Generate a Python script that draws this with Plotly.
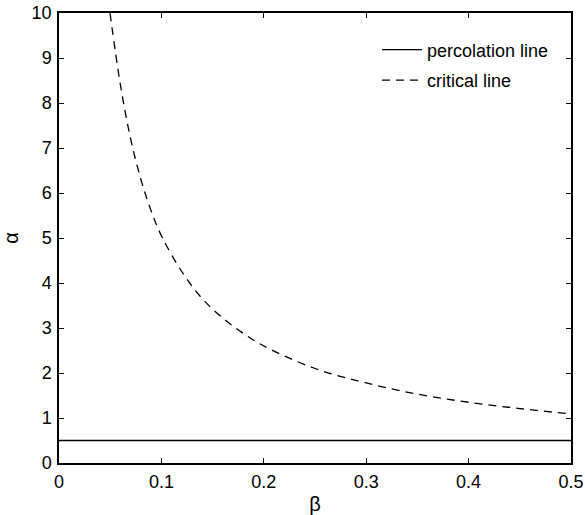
import plotly.graph_objects as go

beta_crit = [0.0498, 0.06, 0.07, 0.08, 0.09, 0.10, 0.12, 0.14, 0.16, 0.18, 0.20, 0.25, 0.30, 0.35, 0.40, 0.45, 0.50]
alpha_crit = [10.0, 8.4, 7.2, 6.3, 5.6, 5.05, 4.25, 3.65, 3.22, 2.88, 2.6, 2.1, 1.78, 1.53, 1.35, 1.21, 1.09]
beta_perc = [0.0, 0.5]
alpha_perc = [0.5, 0.5]
x_ticks = [0, 0.1, 0.2, 0.3, 0.4, 0.5]
x_tick_labels = ["0", "0.1", "0.2", "0.3", "0.4", "0.5"]
y_ticks = list(range(0, 11))

font = "Liberation Sans, Arial, sans-serif"

fig = go.Figure()
fig.add_trace(go.Scatter(x=beta_perc, y=alpha_perc, mode="lines", name="percolation line",
                         legendgroup="p", line=dict(color="black", width=1.3)))
fig.add_trace(go.Scatter(x=beta_crit, y=alpha_crit, mode="lines", name="critical line",
                         legendgroup="c",
                         line=dict(color="black", width=1.3, dash="8px,6px", shape="spline")))

axis_common = dict(showgrid=False, zeroline=False, showline=True, linecolor="black", linewidth=1.5,
                   mirror="ticks", ticks="inside", ticklen=5, tickcolor="black", tickwidth=1,
                   automargin=False, ticklabelstandoff=2,
                   tickfont=dict(family=font, size=18, color="black"))

fig.update_layout(
    width=585, height=515,
    margin=dict(l=59, r=14, t=13, b=52),
    paper_bgcolor="white", plot_bgcolor="white",
    showlegend=True,
    legend=dict(x=0.621, y=0.959, xanchor="left", yanchor="top", bgcolor="rgba(0,0,0,0)",
                font=dict(family=font, size=18, color="black"), tracegroupgap=4,
                itemwidth=40),
    xaxis=dict(range=[0, 0.5], tickvals=x_ticks, ticktext=x_tick_labels,
               title=dict(text="β", font=dict(family=font, size=20, color="black"), standoff=6),
               **axis_common),
    yaxis=dict(range=[0, 10], tickvals=y_ticks,
               title=dict(text="α", font=dict(family=font, size=20, color="black"), standoff=18),
               **axis_common),
)

# remove the browser's default 8px body margin so the figure fills the window exactly
fig.write_html("out.html", config={"displayModeBar": False},
               post_script="document.body.style.margin='0';")
